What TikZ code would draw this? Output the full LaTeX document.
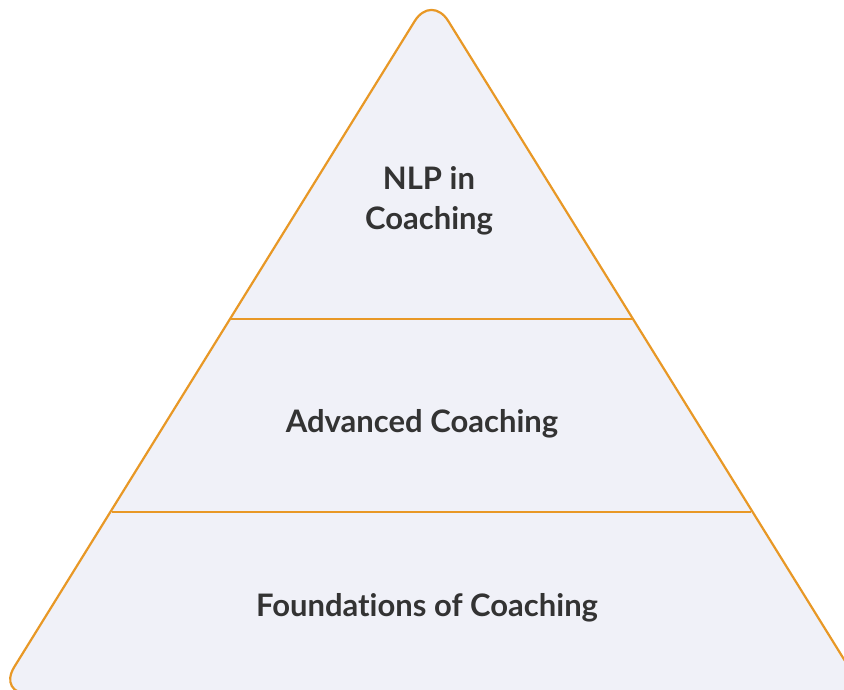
\documentclass[tikz,border=0pt]{standalone}
\usepackage{fontspec}
\setmainfont{Lato}[Ligatures=NoCommon]
\definecolor{pfill}{RGB}{240,241,248}
\definecolor{pline}{RGB}{232,152,38}
\definecolor{ptext}{RGB}{51,51,51}
\begin{document}
\begin{tikzpicture}[x=1pt,y=-1pt,
  lvl/.style={font=\bfseries\fontsize{31}{40}\selectfont, text=ptext, align=center}]
\useasboundingbox (0,0) rectangle (844,690);
\clip (0,0) rectangle (844,690);
\coordinate (apex) at (431.5,-6);
\coordinate (bl) at (-2.5,694);
\coordinate (br) at (865.5,694);
\draw[pline, fill=pfill, line width=2.2pt, rounded corners=32pt, line join=round]
  (bl) -- (apex) -- (br) -- cycle;
\coordinate (l1) at (231,319);
\coordinate (r1) at (632,319);
\coordinate (l2) at (112,512);
\coordinate (r2) at (751,512);
\draw[pline, line width=2.2pt] (l1) -- (r1);
\draw[pline, line width=2.2pt] (l2) -- (r2);
\node[lvl] (top) at (429,201) {NLP in\\Coaching};
\node[lvl] (mid) at (422,424) {Advanced Coaching};
\node[lvl] (bot) at (427,608) {Foundations of Coaching};
\end{tikzpicture}
\end{document}
